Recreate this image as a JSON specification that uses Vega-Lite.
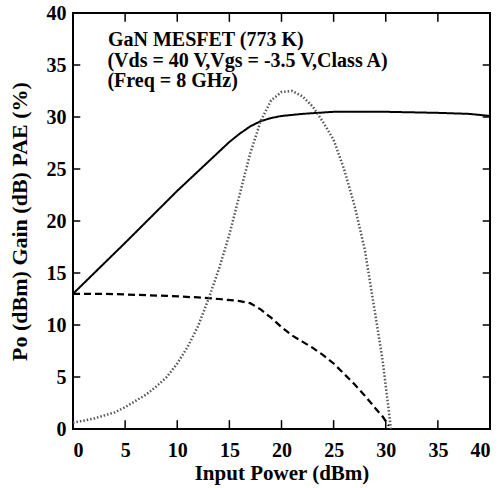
{
  "$schema": "https://vega.github.io/schema/vega-lite/v6.json",
  "width": 417,
  "height": 416,
  "autosize": {"type": "none"},
  "padding": {"left": 73, "top": 13, "right": 11, "bottom": 59},
  "background": "white",
  "config": {
    "view": {"stroke": "black", "strokeWidth": 2},
    "font": "Liberation Serif",
    "axis": {"grid": false, "domain": false, "ticks": false,
             "labelFont": "Liberation Serif", "labelFontWeight": "bold", "labelFontSize": 20, "labelColor": "black",
             "titleFont": "Liberation Serif", "titleFontWeight": "bold", "titleFontSize": 21, "titleColor": "black"}
  },
  "datasets": {
    "curves": [
      {"series": "Po", "pin": 0, "v": 13.0},
      {"series": "Po", "pin": 5, "v": 17.9},
      {"series": "Po", "pin": 10, "v": 22.9},
      {"series": "Po", "pin": 15, "v": 27.6},
      {"series": "Po", "pin": 16, "v": 28.4},
      {"series": "Po", "pin": 17, "v": 29.1},
      {"series": "Po", "pin": 18, "v": 29.6},
      {"series": "Po", "pin": 19, "v": 29.9},
      {"series": "Po", "pin": 20, "v": 30.1},
      {"series": "Po", "pin": 22, "v": 30.3},
      {"series": "Po", "pin": 25, "v": 30.5},
      {"series": "Po", "pin": 30, "v": 30.5},
      {"series": "Po", "pin": 35, "v": 30.4},
      {"series": "Po", "pin": 38, "v": 30.3},
      {"series": "Po", "pin": 40, "v": 30.1},
      {"series": "Gain", "pin": 0, "v": 13.0},
      {"series": "Gain", "pin": 3, "v": 13.0},
      {"series": "Gain", "pin": 6, "v": 12.9},
      {"series": "Gain", "pin": 9, "v": 12.8},
      {"series": "Gain", "pin": 12, "v": 12.65},
      {"series": "Gain", "pin": 14, "v": 12.5},
      {"series": "Gain", "pin": 16, "v": 12.3},
      {"series": "Gain", "pin": 17, "v": 12.1},
      {"series": "Gain", "pin": 18, "v": 11.5},
      {"series": "Gain", "pin": 19, "v": 10.7},
      {"series": "Gain", "pin": 20, "v": 9.8},
      {"series": "Gain", "pin": 21, "v": 9.0},
      {"series": "Gain", "pin": 22, "v": 8.4},
      {"series": "Gain", "pin": 23, "v": 7.8},
      {"series": "Gain", "pin": 24, "v": 7.1},
      {"series": "Gain", "pin": 25, "v": 6.3},
      {"series": "Gain", "pin": 26, "v": 5.3},
      {"series": "Gain", "pin": 27, "v": 4.3},
      {"series": "Gain", "pin": 28, "v": 3.2},
      {"series": "Gain", "pin": 29, "v": 2.0},
      {"series": "Gain", "pin": 29.7, "v": 1.2},
      {"series": "Gain", "pin": 30.3, "v": 0.3},
      {"series": "PAE", "pin": 0, "v": 0.6},
      {"series": "PAE", "pin": 2, "v": 1.0},
      {"series": "PAE", "pin": 4, "v": 1.6},
      {"series": "PAE", "pin": 5, "v": 2.1},
      {"series": "PAE", "pin": 6, "v": 2.7},
      {"series": "PAE", "pin": 7, "v": 3.3},
      {"series": "PAE", "pin": 8, "v": 4.1},
      {"series": "PAE", "pin": 9, "v": 5.0},
      {"series": "PAE", "pin": 10, "v": 6.3},
      {"series": "PAE", "pin": 11, "v": 7.9},
      {"series": "PAE", "pin": 12, "v": 9.9},
      {"series": "PAE", "pin": 13, "v": 12.5},
      {"series": "PAE", "pin": 14, "v": 15.4},
      {"series": "PAE", "pin": 15, "v": 18.7},
      {"series": "PAE", "pin": 16, "v": 22.6},
      {"series": "PAE", "pin": 17, "v": 26.5},
      {"series": "PAE", "pin": 18, "v": 29.6},
      {"series": "PAE", "pin": 19, "v": 31.6},
      {"series": "PAE", "pin": 20, "v": 32.4},
      {"series": "PAE", "pin": 21, "v": 32.5},
      {"series": "PAE", "pin": 22, "v": 32.0},
      {"series": "PAE", "pin": 23, "v": 31.0},
      {"series": "PAE", "pin": 24, "v": 29.5},
      {"series": "PAE", "pin": 25, "v": 27.8},
      {"series": "PAE", "pin": 26, "v": 25.0},
      {"series": "PAE", "pin": 27, "v": 21.5},
      {"series": "PAE", "pin": 28, "v": 17.2},
      {"series": "PAE", "pin": 29, "v": 11.0},
      {"series": "PAE", "pin": 29.7, "v": 6.6},
      {"series": "PAE", "pin": 30.2, "v": 2.5},
      {"series": "PAE", "pin": 30.5, "v": 0.0}
    ],
    "ticks": [
      {"t": 5}, {"t": 10}, {"t": 15}, {"t": 20}, {"t": 25}, {"t": 30}, {"t": 35}
    ],
    "notes": [
      {"pin": 3.35, "v": 36.8, "label": "GaN MESFET (773 K)"},
      {"pin": 3.3, "v": 34.85, "label": "(Vds = 40 V,Vgs = -3.5 V,Class A)"},
      {"pin": 3.3, "v": 32.9, "label": "(Freq = 8 GHz)"}
    ]
  },
  "layer": [
    {
      "data": {"name": "curves"},
      "mark": {"type": "line", "clip": true},
      "encoding": {
        "x": {"field": "pin", "type": "quantitative", "scale": {"domain": [0, 40], "nice": false},
              "axis": {"orient": "bottom", "title": "Input Power (dBm)", "values": [0, 5, 10, 15, 20, 25, 30, 35, 40], "labelPadding": 11, "titlePadding": 2}},
        "y": {"field": "v", "type": "quantitative", "scale": {"domain": [0, 40], "nice": false},
              "axis": {"orient": "left", "title": "Po (dBm) Gain (dB) PAE (%)", "titleFontSize": 22, "values": [0, 5, 10, 15, 20, 25, 30, 35, 40], "labelPadding": 7, "titlePadding": 15}},
        "detail": {"field": "series"},
        "strokeDash": {"field": "series", "type": "nominal", "scale": {"domain": ["Po", "Gain", "PAE"], "range": [[1, 0], [7, 4], [1.5, 2]]}, "legend": null},
        "strokeWidth": {"field": "series", "type": "nominal", "scale": {"domain": ["Po", "Gain", "PAE"], "range": [2, 2.5, 1.5]}, "legend": null},
        "color": {"field": "series", "type": "nominal", "scale": {"domain": ["Po", "Gain", "PAE"], "range": ["#000000", "#000000", "#555555"]}, "legend": null}
      }
    },
    {
      "data": {"name": "ticks"},
      "mark": {"type": "rule", "color": "black", "strokeWidth": 1.5},
      "encoding": {"x": {"field": "t", "type": "quantitative"}, "y": {"datum": 0}, "y2": {"datum": 0.85}}
    },
    {
      "data": {"name": "ticks"},
      "mark": {"type": "rule", "color": "black", "strokeWidth": 1.5},
      "encoding": {"x": {"field": "t", "type": "quantitative"}, "y": {"datum": 40}, "y2": {"datum": 39.15}}
    },
    {
      "data": {"name": "ticks"},
      "mark": {"type": "rule", "color": "black", "strokeWidth": 1.5},
      "encoding": {"y": {"field": "t", "type": "quantitative"}, "x": {"datum": 0}, "x2": {"datum": 0.7}}
    },
    {
      "data": {"name": "ticks"},
      "mark": {"type": "rule", "color": "black", "strokeWidth": 1.5},
      "encoding": {"y": {"field": "t", "type": "quantitative"}, "x": {"datum": 40}, "x2": {"datum": 39.3}}
    },
    {
      "data": {"name": "notes"},
      "mark": {"type": "text", "align": "left", "baseline": "alphabetic", "font": "Liberation Serif", "fontWeight": "bold", "fontSize": 20, "color": "black"},
      "encoding": {
        "x": {"field": "pin", "type": "quantitative"},
        "y": {"field": "v", "type": "quantitative"},
        "text": {"field": "label"}
      }
    }
  ]
}
